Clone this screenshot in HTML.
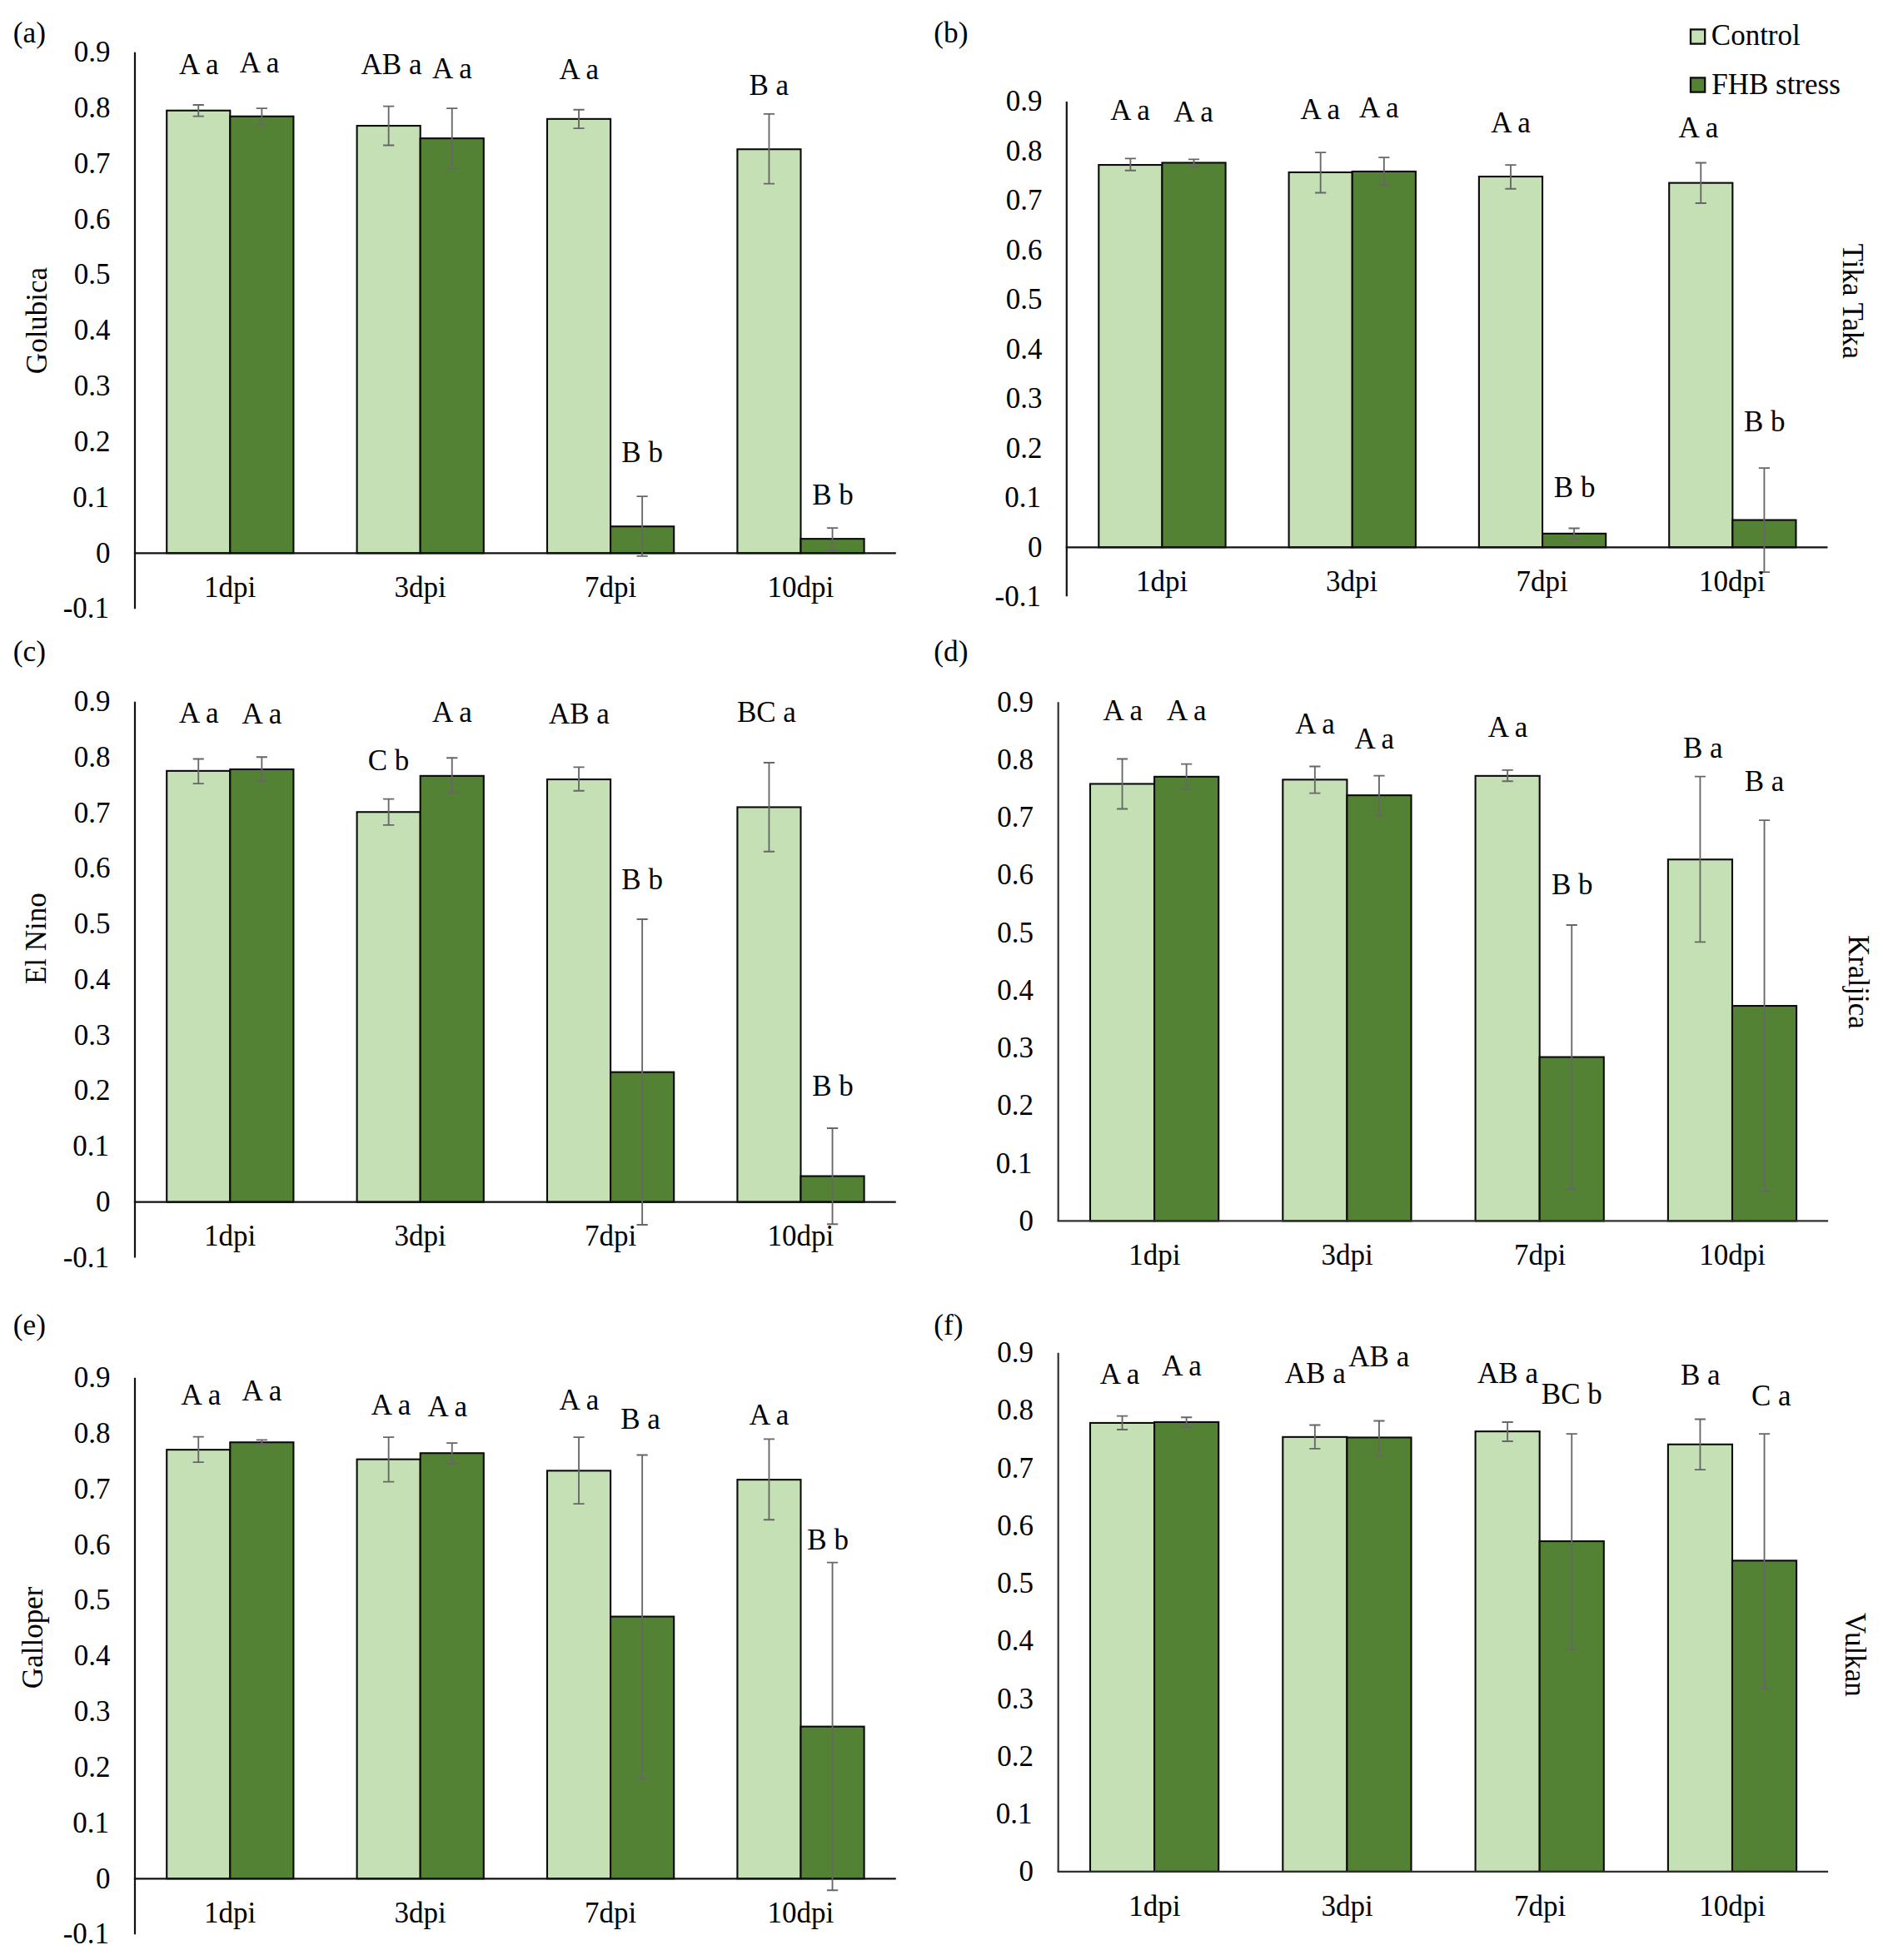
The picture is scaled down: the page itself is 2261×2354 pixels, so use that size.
<!DOCTYPE html>
<html><head><meta charset="utf-8"><title>Figure</title>
<style>
html,body{margin:0;padding:0;background:#fff}
svg{display:block}
text{font-family:"Liberation Serif","Times New Roman",serif;fill:#000}
</style></head><body>
<svg width="2261" height="2354" viewBox="0 0 2261 2354">
<rect width="2261" height="2354" fill="#fff"/>
<rect x="200.20" y="132.75" width="76.10" height="531.55" fill="#c5e0b4" stroke="#0b0b0b" stroke-width="2.1"/>
<rect x="276.30" y="139.75" width="76.10" height="524.55" fill="#548235" stroke="#0b0b0b" stroke-width="2.1"/>
<rect x="428.60" y="151.05" width="76.10" height="513.25" fill="#c5e0b4" stroke="#0b0b0b" stroke-width="2.1"/>
<rect x="504.70" y="166.15" width="76.10" height="498.15" fill="#548235" stroke="#0b0b0b" stroke-width="2.1"/>
<rect x="657.00" y="142.85" width="76.10" height="521.45" fill="#c5e0b4" stroke="#0b0b0b" stroke-width="2.1"/>
<rect x="733.10" y="632.25" width="76.10" height="32.05" fill="#548235" stroke="#0b0b0b" stroke-width="2.1"/>
<rect x="885.40" y="179.25" width="76.10" height="485.05" fill="#c5e0b4" stroke="#0b0b0b" stroke-width="2.1"/>
<rect x="961.50" y="647.15" width="76.10" height="17.15" fill="#548235" stroke="#0b0b0b" stroke-width="2.1"/>
<line x1="162.00" y1="62.74" x2="162.00" y2="731.14" stroke="#111" stroke-width="2.2"/>
<line x1="160.90" y1="664.30" x2="1075.80" y2="664.30" stroke="#111" stroke-width="2.2"/>
<path d="M238.25 125.95V139.55M231.65 125.95h13.2M231.65 139.55h13.2" stroke="#676767" stroke-width="1.85" fill="none"/>
<path d="M314.35 130.15V149.55M307.75 130.15h13.2M307.75 149.55h13.2" stroke="#676767" stroke-width="1.85" fill="none"/>
<path d="M466.65 127.65V174.45M460.05 127.65h13.2M460.05 174.45h13.2" stroke="#676767" stroke-width="1.85" fill="none"/>
<path d="M542.75 130.15V201.85M536.15 130.15h13.2M536.15 201.85h13.2" stroke="#676767" stroke-width="1.85" fill="none"/>
<path d="M695.05 131.75V154.05M688.45 131.75h13.2M688.45 154.05h13.2" stroke="#676767" stroke-width="1.85" fill="none"/>
<path d="M771.15 596.15V667.85M764.55 596.15h13.2M764.55 667.85h13.2" stroke="#676767" stroke-width="1.85" fill="none"/>
<path d="M923.45 136.85V220.65M916.85 136.85h13.2M916.85 220.65h13.2" stroke="#676767" stroke-width="1.85" fill="none"/>
<path d="M999.55 634.15V660.25M992.95 634.15h13.2M992.95 660.25h13.2" stroke="#676767" stroke-width="1.85" fill="none"/>
<text x="131.1" y="742.4" text-anchor="end" font-size="35">-0.1</text>
<text x="132.6" y="675.6" text-anchor="end" font-size="35">0</text>
<text x="131.1" y="608.8" text-anchor="end" font-size="35">0.1</text>
<text x="132.6" y="541.9" text-anchor="end" font-size="35">0.2</text>
<text x="132.6" y="475.1" text-anchor="end" font-size="35">0.3</text>
<text x="132.6" y="408.2" text-anchor="end" font-size="35">0.4</text>
<text x="132.6" y="341.4" text-anchor="end" font-size="35">0.5</text>
<text x="132.6" y="274.6" text-anchor="end" font-size="35">0.6</text>
<text x="132.6" y="207.7" text-anchor="end" font-size="35">0.7</text>
<text x="132.6" y="140.9" text-anchor="end" font-size="35">0.8</text>
<text x="132.6" y="74.0" text-anchor="end" font-size="35">0.9</text>
<text x="276.2" y="717.0" text-anchor="middle" font-size="35">1dpi</text>
<text x="504.6" y="717.0" text-anchor="middle" font-size="35">3dpi</text>
<text x="733.0" y="717.0" text-anchor="middle" font-size="35">7dpi</text>
<text x="961.4" y="717.0" text-anchor="middle" font-size="35">10dpi</text>
<text x="238.7" y="88.8" text-anchor="middle" font-size="35">A a</text>
<text x="311.5" y="87.2" text-anchor="middle" font-size="35">A a</text>
<text x="470.0" y="88.8" text-anchor="middle" font-size="35">AB a</text>
<text x="542.9" y="93.5" text-anchor="middle" font-size="35">A a</text>
<text x="695.2" y="94.8" text-anchor="middle" font-size="35">A a</text>
<text x="771.1" y="555.1" text-anchor="middle" font-size="35">B b</text>
<text x="923.2" y="113.5" text-anchor="middle" font-size="35">B a</text>
<text x="1000.0" y="605.8" text-anchor="middle" font-size="35">B b</text>
<rect x="1319.30" y="198.05" width="76.15" height="459.25" fill="#c5e0b4" stroke="#0b0b0b" stroke-width="2.1"/>
<rect x="1395.45" y="195.45" width="76.15" height="461.85" fill="#548235" stroke="#0b0b0b" stroke-width="2.1"/>
<rect x="1547.60" y="206.95" width="76.15" height="450.35" fill="#c5e0b4" stroke="#0b0b0b" stroke-width="2.1"/>
<rect x="1623.75" y="205.95" width="76.15" height="451.35" fill="#548235" stroke="#0b0b0b" stroke-width="2.1"/>
<rect x="1775.90" y="212.05" width="76.15" height="445.25" fill="#c5e0b4" stroke="#0b0b0b" stroke-width="2.1"/>
<rect x="1852.05" y="640.85" width="76.15" height="16.45" fill="#548235" stroke="#0b0b0b" stroke-width="2.1"/>
<rect x="2004.20" y="219.65" width="76.15" height="437.65" fill="#c5e0b4" stroke="#0b0b0b" stroke-width="2.1"/>
<rect x="2080.35" y="624.55" width="76.15" height="32.75" fill="#548235" stroke="#0b0b0b" stroke-width="2.1"/>
<line x1="1280.80" y1="121.98" x2="1280.80" y2="716.30" stroke="#111" stroke-width="2.2"/>
<line x1="1279.70" y1="657.30" x2="2194.50" y2="657.30" stroke="#111" stroke-width="2.2"/>
<path d="M1357.38 190.35V204.75M1350.78 190.35h13.2M1350.78 204.75h13.2" stroke="#676767" stroke-width="1.85" fill="none"/>
<path d="M1433.53 191.35V199.95M1426.93 191.35h13.2M1426.93 199.95h13.2" stroke="#676767" stroke-width="1.85" fill="none"/>
<path d="M1585.67 183.05V231.45M1579.08 183.05h13.2M1579.08 231.45h13.2" stroke="#676767" stroke-width="1.85" fill="none"/>
<path d="M1661.83 189.15V222.25M1655.23 189.15h13.2M1655.23 222.25h13.2" stroke="#676767" stroke-width="1.85" fill="none"/>
<path d="M1813.98 198.05V226.75M1807.38 198.05h13.2M1807.38 226.75h13.2" stroke="#676767" stroke-width="1.85" fill="none"/>
<path d="M1890.13 634.45V647.45M1883.53 634.45h13.2M1883.53 647.45h13.2" stroke="#676767" stroke-width="1.85" fill="none"/>
<path d="M2042.28 195.45V243.95M2035.68 195.45h13.2M2035.68 243.95h13.2" stroke="#676767" stroke-width="1.85" fill="none"/>
<path d="M2118.42 562.05V687.05M2111.82 562.05h13.2M2111.82 687.05h13.2" stroke="#676767" stroke-width="1.85" fill="none"/>
<text x="1249.9" y="728.1" text-anchor="end" font-size="35">-0.1</text>
<text x="1251.4" y="668.6" text-anchor="end" font-size="35">0</text>
<text x="1249.9" y="609.1" text-anchor="end" font-size="35">0.1</text>
<text x="1251.4" y="549.6" text-anchor="end" font-size="35">0.2</text>
<text x="1251.4" y="490.2" text-anchor="end" font-size="35">0.3</text>
<text x="1251.4" y="430.7" text-anchor="end" font-size="35">0.4</text>
<text x="1251.4" y="371.2" text-anchor="end" font-size="35">0.5</text>
<text x="1251.4" y="311.7" text-anchor="end" font-size="35">0.6</text>
<text x="1251.4" y="252.2" text-anchor="end" font-size="35">0.7</text>
<text x="1251.4" y="192.8" text-anchor="end" font-size="35">0.8</text>
<text x="1251.4" y="133.3" text-anchor="end" font-size="35">0.9</text>
<text x="1395.0" y="710.0" text-anchor="middle" font-size="35">1dpi</text>
<text x="1623.2" y="710.0" text-anchor="middle" font-size="35">3dpi</text>
<text x="1851.6" y="710.0" text-anchor="middle" font-size="35">7dpi</text>
<text x="2079.8" y="710.0" text-anchor="middle" font-size="35">10dpi</text>
<text x="1357.0" y="144.4" text-anchor="middle" font-size="35">A a</text>
<text x="1433.0" y="145.8" text-anchor="middle" font-size="35">A a</text>
<text x="1585.2" y="142.8" text-anchor="middle" font-size="35">A a</text>
<text x="1655.8" y="140.6" text-anchor="middle" font-size="35">A a</text>
<text x="1814.0" y="158.8" text-anchor="middle" font-size="35">A a</text>
<text x="1890.6" y="597.2" text-anchor="middle" font-size="35">B b</text>
<text x="2039.4" y="165.2" text-anchor="middle" font-size="35">A a</text>
<text x="2118.8" y="517.5" text-anchor="middle" font-size="35">B b</text>
<rect x="200.20" y="925.85" width="76.10" height="517.85" fill="#c5e0b4" stroke="#0b0b0b" stroke-width="2.1"/>
<rect x="276.30" y="923.95" width="76.10" height="519.75" fill="#548235" stroke="#0b0b0b" stroke-width="2.1"/>
<rect x="428.60" y="975.25" width="76.10" height="468.45" fill="#c5e0b4" stroke="#0b0b0b" stroke-width="2.1"/>
<rect x="504.70" y="931.85" width="76.10" height="511.85" fill="#548235" stroke="#0b0b0b" stroke-width="2.1"/>
<rect x="657.00" y="936.05" width="76.10" height="507.65" fill="#c5e0b4" stroke="#0b0b0b" stroke-width="2.1"/>
<rect x="733.10" y="1287.65" width="76.10" height="156.05" fill="#548235" stroke="#0b0b0b" stroke-width="2.1"/>
<rect x="885.40" y="969.45" width="76.10" height="474.25" fill="#c5e0b4" stroke="#0b0b0b" stroke-width="2.1"/>
<rect x="961.50" y="1412.55" width="76.10" height="31.15" fill="#548235" stroke="#0b0b0b" stroke-width="2.1"/>
<line x1="162.00" y1="842.68" x2="162.00" y2="1510.48" stroke="#111" stroke-width="2.2"/>
<line x1="160.90" y1="1443.70" x2="1075.80" y2="1443.70" stroke="#111" stroke-width="2.2"/>
<path d="M238.25 911.45V941.15M231.65 911.45h13.2M231.65 941.15h13.2" stroke="#676767" stroke-width="1.85" fill="none"/>
<path d="M314.35 909.25V937.95M307.75 909.25h13.2M307.75 937.95h13.2" stroke="#676767" stroke-width="1.85" fill="none"/>
<path d="M466.65 959.65V990.85M460.05 959.65h13.2M460.05 990.85h13.2" stroke="#676767" stroke-width="1.85" fill="none"/>
<path d="M542.75 910.25V952.25M536.15 910.25h13.2M536.15 952.25h13.2" stroke="#676767" stroke-width="1.85" fill="none"/>
<path d="M695.05 921.35V949.75M688.45 921.35h13.2M688.45 949.75h13.2" stroke="#676767" stroke-width="1.85" fill="none"/>
<path d="M771.15 1103.95V1470.95M764.55 1103.95h13.2M764.55 1470.95h13.2" stroke="#676767" stroke-width="1.85" fill="none"/>
<path d="M923.45 915.95V1022.75M916.85 915.95h13.2M916.85 1022.75h13.2" stroke="#676767" stroke-width="1.85" fill="none"/>
<path d="M999.55 1354.95V1470.25M992.95 1354.95h13.2M992.95 1470.25h13.2" stroke="#676767" stroke-width="1.85" fill="none"/>
<text x="131.1" y="1521.8" text-anchor="end" font-size="35">-0.1</text>
<text x="132.6" y="1455.0" text-anchor="end" font-size="35">0</text>
<text x="131.1" y="1388.2" text-anchor="end" font-size="35">0.1</text>
<text x="132.6" y="1321.4" text-anchor="end" font-size="35">0.2</text>
<text x="132.6" y="1254.7" text-anchor="end" font-size="35">0.3</text>
<text x="132.6" y="1187.9" text-anchor="end" font-size="35">0.4</text>
<text x="132.6" y="1121.1" text-anchor="end" font-size="35">0.5</text>
<text x="132.6" y="1054.3" text-anchor="end" font-size="35">0.6</text>
<text x="132.6" y="987.5" text-anchor="end" font-size="35">0.7</text>
<text x="132.6" y="920.8" text-anchor="end" font-size="35">0.8</text>
<text x="132.6" y="854.0" text-anchor="end" font-size="35">0.9</text>
<text x="276.2" y="1496.4" text-anchor="middle" font-size="35">1dpi</text>
<text x="504.6" y="1496.4" text-anchor="middle" font-size="35">3dpi</text>
<text x="733.0" y="1496.4" text-anchor="middle" font-size="35">7dpi</text>
<text x="961.4" y="1496.4" text-anchor="middle" font-size="35">10dpi</text>
<text x="238.7" y="868.2" text-anchor="middle" font-size="35">A a</text>
<text x="314.4" y="868.9" text-anchor="middle" font-size="35">A a</text>
<text x="466.5" y="925.2" text-anchor="middle" font-size="35">C b</text>
<text x="542.9" y="866.6" text-anchor="middle" font-size="35">A a</text>
<text x="695.4" y="868.9" text-anchor="middle" font-size="35">AB a</text>
<text x="771.1" y="1068.0" text-anchor="middle" font-size="35">B b</text>
<text x="920.4" y="867.2" text-anchor="middle" font-size="35">BC a</text>
<text x="1000.0" y="1316.4" text-anchor="middle" font-size="35">B b</text>
<rect x="1309.00" y="941.45" width="77.10" height="524.95" fill="#c5e0b4" stroke="#0b0b0b" stroke-width="2.1"/>
<rect x="1386.10" y="932.85" width="77.10" height="533.55" fill="#548235" stroke="#0b0b0b" stroke-width="2.1"/>
<rect x="1540.30" y="936.35" width="77.10" height="530.05" fill="#c5e0b4" stroke="#0b0b0b" stroke-width="2.1"/>
<rect x="1617.40" y="955.15" width="77.10" height="511.25" fill="#548235" stroke="#0b0b0b" stroke-width="2.1"/>
<rect x="1771.60" y="931.85" width="77.10" height="534.55" fill="#c5e0b4" stroke="#0b0b0b" stroke-width="2.1"/>
<rect x="1848.70" y="1269.55" width="77.10" height="196.85" fill="#548235" stroke="#0b0b0b" stroke-width="2.1"/>
<rect x="2002.90" y="1032.25" width="77.10" height="434.15" fill="#c5e0b4" stroke="#0b0b0b" stroke-width="2.1"/>
<rect x="2080.00" y="1208.05" width="77.10" height="258.35" fill="#548235" stroke="#0b0b0b" stroke-width="2.1"/>
<line x1="1270.70" y1="843.33" x2="1270.70" y2="1466.40" stroke="#303030" stroke-width="2.2"/>
<line x1="1269.60" y1="1466.40" x2="2195.10" y2="1466.40" stroke="#303030" stroke-width="2.2"/>
<path d="M1347.55 911.45V971.45M1340.95 911.45h13.2M1340.95 971.45h13.2" stroke="#676767" stroke-width="1.85" fill="none"/>
<path d="M1424.65 917.55V947.85M1418.05 917.55h13.2M1418.05 947.85h13.2" stroke="#676767" stroke-width="1.85" fill="none"/>
<path d="M1578.85 920.45V952.65M1572.25 920.45h13.2M1572.25 952.65h13.2" stroke="#676767" stroke-width="1.85" fill="none"/>
<path d="M1655.95 931.55V979.35M1649.35 931.55h13.2M1649.35 979.35h13.2" stroke="#676767" stroke-width="1.85" fill="none"/>
<path d="M1810.15 924.85V938.25M1803.55 924.85h13.2M1803.55 938.25h13.2" stroke="#676767" stroke-width="1.85" fill="none"/>
<path d="M1887.25 1110.95V1428.25M1880.65 1110.95h13.2M1880.65 1428.25h13.2" stroke="#676767" stroke-width="1.85" fill="none"/>
<path d="M2041.45 932.55V1131.35M2034.85 932.55h13.2M2034.85 1131.35h13.2" stroke="#676767" stroke-width="1.85" fill="none"/>
<path d="M2118.55 985.15V1431.05M2111.95 985.15h13.2M2111.95 1431.05h13.2" stroke="#676767" stroke-width="1.85" fill="none"/>
<text x="1241.0" y="1477.7" text-anchor="end" font-size="35">0</text>
<text x="1239.5" y="1408.5" text-anchor="end" font-size="35">0.1</text>
<text x="1241.0" y="1339.2" text-anchor="end" font-size="35">0.2</text>
<text x="1241.0" y="1270.0" text-anchor="end" font-size="35">0.3</text>
<text x="1241.0" y="1200.8" text-anchor="end" font-size="35">0.4</text>
<text x="1241.0" y="1131.5" text-anchor="end" font-size="35">0.5</text>
<text x="1241.0" y="1062.3" text-anchor="end" font-size="35">0.6</text>
<text x="1241.0" y="993.1" text-anchor="end" font-size="35">0.7</text>
<text x="1241.0" y="923.9" text-anchor="end" font-size="35">0.8</text>
<text x="1241.0" y="854.6" text-anchor="end" font-size="35">0.9</text>
<text x="1386.4" y="1519.1" text-anchor="middle" font-size="35">1dpi</text>
<text x="1617.7" y="1519.1" text-anchor="middle" font-size="35">3dpi</text>
<text x="1849.0" y="1519.1" text-anchor="middle" font-size="35">7dpi</text>
<text x="2080.2" y="1519.1" text-anchor="middle" font-size="35">10dpi</text>
<text x="1348.2" y="865.0" text-anchor="middle" font-size="35">A a</text>
<text x="1424.7" y="865.0" text-anchor="middle" font-size="35">A a</text>
<text x="1579.1" y="881.0" text-anchor="middle" font-size="35">A a</text>
<text x="1650.2" y="899.4" text-anchor="middle" font-size="35">A a</text>
<text x="1810.5" y="884.8" text-anchor="middle" font-size="35">A a</text>
<text x="1887.7" y="1074.4" text-anchor="middle" font-size="35">B b</text>
<text x="2044.7" y="909.6" text-anchor="middle" font-size="35">B a</text>
<text x="2118.6" y="950.1" text-anchor="middle" font-size="35">B a</text>
<rect x="200.20" y="1741.15" width="76.10" height="515.15" fill="#c5e0b4" stroke="#0b0b0b" stroke-width="2.1"/>
<rect x="276.30" y="1732.25" width="76.10" height="524.05" fill="#548235" stroke="#0b0b0b" stroke-width="2.1"/>
<rect x="428.60" y="1752.65" width="76.10" height="503.65" fill="#c5e0b4" stroke="#0b0b0b" stroke-width="2.1"/>
<rect x="504.70" y="1745.25" width="76.10" height="511.05" fill="#548235" stroke="#0b0b0b" stroke-width="2.1"/>
<rect x="657.00" y="1766.35" width="76.10" height="489.95" fill="#c5e0b4" stroke="#0b0b0b" stroke-width="2.1"/>
<rect x="733.10" y="1941.55" width="76.10" height="314.75" fill="#548235" stroke="#0b0b0b" stroke-width="2.1"/>
<rect x="885.40" y="1777.15" width="76.10" height="479.15" fill="#c5e0b4" stroke="#0b0b0b" stroke-width="2.1"/>
<rect x="961.50" y="2073.65" width="76.10" height="182.65" fill="#548235" stroke="#0b0b0b" stroke-width="2.1"/>
<line x1="162.00" y1="1654.74" x2="162.00" y2="2323.14" stroke="#111" stroke-width="2.2"/>
<line x1="160.90" y1="2256.30" x2="1075.80" y2="2256.30" stroke="#111" stroke-width="2.2"/>
<path d="M238.25 1725.55V1756.15M231.65 1725.55h13.2M231.65 1756.15h13.2" stroke="#676767" stroke-width="1.85" fill="none"/>
<path d="M314.35 1729.35V1734.45M307.75 1729.35h13.2M307.75 1734.45h13.2" stroke="#676767" stroke-width="1.85" fill="none"/>
<path d="M466.65 1726.15V1779.65M460.05 1726.15h13.2M460.05 1779.65h13.2" stroke="#676767" stroke-width="1.85" fill="none"/>
<path d="M542.75 1733.15V1757.75M536.15 1733.15h13.2M536.15 1757.75h13.2" stroke="#676767" stroke-width="1.85" fill="none"/>
<path d="M695.05 1726.15V1806.15M688.45 1726.15h13.2M688.45 1806.15h13.2" stroke="#676767" stroke-width="1.85" fill="none"/>
<path d="M771.15 1747.45V2136.05M764.55 1747.45h13.2M764.55 2136.05h13.2" stroke="#676767" stroke-width="1.85" fill="none"/>
<path d="M923.45 1728.35V1825.25M916.85 1728.35h13.2M916.85 1825.25h13.2" stroke="#676767" stroke-width="1.85" fill="none"/>
<path d="M999.55 1876.55V2270.25M992.95 1876.55h13.2M992.95 2270.25h13.2" stroke="#676767" stroke-width="1.85" fill="none"/>
<text x="131.1" y="2334.4" text-anchor="end" font-size="35">-0.1</text>
<text x="132.6" y="2267.6" text-anchor="end" font-size="35">0</text>
<text x="131.1" y="2200.8" text-anchor="end" font-size="35">0.1</text>
<text x="132.6" y="2133.9" text-anchor="end" font-size="35">0.2</text>
<text x="132.6" y="2067.1" text-anchor="end" font-size="35">0.3</text>
<text x="132.6" y="2000.2" text-anchor="end" font-size="35">0.4</text>
<text x="132.6" y="1933.4" text-anchor="end" font-size="35">0.5</text>
<text x="132.6" y="1866.6" text-anchor="end" font-size="35">0.6</text>
<text x="132.6" y="1799.7" text-anchor="end" font-size="35">0.7</text>
<text x="132.6" y="1732.9" text-anchor="end" font-size="35">0.8</text>
<text x="132.6" y="1666.0" text-anchor="end" font-size="35">0.9</text>
<text x="276.2" y="2309.0" text-anchor="middle" font-size="35">1dpi</text>
<text x="504.6" y="2309.0" text-anchor="middle" font-size="35">3dpi</text>
<text x="733.0" y="2309.0" text-anchor="middle" font-size="35">7dpi</text>
<text x="961.4" y="2309.0" text-anchor="middle" font-size="35">10dpi</text>
<text x="241.4" y="1687.2" text-anchor="middle" font-size="35">A a</text>
<text x="314.4" y="1682.2" text-anchor="middle" font-size="35">A a</text>
<text x="469.6" y="1699.0" text-anchor="middle" font-size="35">A a</text>
<text x="537.3" y="1700.7" text-anchor="middle" font-size="35">A a</text>
<text x="695.4" y="1692.7" text-anchor="middle" font-size="35">A a</text>
<text x="769.0" y="1715.7" text-anchor="middle" font-size="35">B a</text>
<text x="923.6" y="1710.9" text-anchor="middle" font-size="35">A a</text>
<text x="994.1" y="1861.0" text-anchor="middle" font-size="35">B b</text>
<rect x="1309.00" y="1708.95" width="77.10" height="538.95" fill="#c5e0b4" stroke="#0b0b0b" stroke-width="2.1"/>
<rect x="1386.10" y="1707.95" width="77.10" height="539.95" fill="#548235" stroke="#0b0b0b" stroke-width="2.1"/>
<rect x="1540.30" y="1725.85" width="77.10" height="522.05" fill="#c5e0b4" stroke="#0b0b0b" stroke-width="2.1"/>
<rect x="1617.40" y="1726.45" width="77.10" height="521.45" fill="#548235" stroke="#0b0b0b" stroke-width="2.1"/>
<rect x="1771.60" y="1719.15" width="77.10" height="528.75" fill="#c5e0b4" stroke="#0b0b0b" stroke-width="2.1"/>
<rect x="1848.70" y="1851.05" width="77.10" height="396.85" fill="#548235" stroke="#0b0b0b" stroke-width="2.1"/>
<rect x="2002.90" y="1734.75" width="77.10" height="513.15" fill="#c5e0b4" stroke="#0b0b0b" stroke-width="2.1"/>
<rect x="2080.00" y="1874.35" width="77.10" height="373.55" fill="#548235" stroke="#0b0b0b" stroke-width="2.1"/>
<line x1="1270.70" y1="1624.83" x2="1270.70" y2="2247.90" stroke="#303030" stroke-width="2.2"/>
<line x1="1269.60" y1="2247.90" x2="2195.10" y2="2247.90" stroke="#303030" stroke-width="2.2"/>
<path d="M1347.55 1700.65V1716.95M1340.95 1700.65h13.2M1340.95 1716.95h13.2" stroke="#676767" stroke-width="1.85" fill="none"/>
<path d="M1424.65 1702.25V1714.05M1418.05 1702.25h13.2M1418.05 1714.05h13.2" stroke="#676767" stroke-width="1.85" fill="none"/>
<path d="M1578.85 1711.45V1739.85M1572.25 1711.45h13.2M1572.25 1739.85h13.2" stroke="#676767" stroke-width="1.85" fill="none"/>
<path d="M1655.95 1706.45V1747.55M1649.35 1706.45h13.2M1649.35 1747.55h13.2" stroke="#676767" stroke-width="1.85" fill="none"/>
<path d="M1810.15 1707.95V1730.95M1803.55 1707.95h13.2M1803.55 1730.95h13.2" stroke="#676767" stroke-width="1.85" fill="none"/>
<path d="M1887.25 1722.05V1980.55M1880.65 1722.05h13.2M1880.65 1980.55h13.2" stroke="#676767" stroke-width="1.85" fill="none"/>
<path d="M2041.45 1704.45V1765.05M2034.85 1704.45h13.2M2034.85 1765.05h13.2" stroke="#676767" stroke-width="1.85" fill="none"/>
<path d="M2118.55 1722.05V2027.75M2111.95 1722.05h13.2M2111.95 2027.75h13.2" stroke="#676767" stroke-width="1.85" fill="none"/>
<text x="1241.0" y="2259.2" text-anchor="end" font-size="35">0</text>
<text x="1239.5" y="2190.0" text-anchor="end" font-size="35">0.1</text>
<text x="1241.0" y="2120.7" text-anchor="end" font-size="35">0.2</text>
<text x="1241.0" y="2051.5" text-anchor="end" font-size="35">0.3</text>
<text x="1241.0" y="1982.3" text-anchor="end" font-size="35">0.4</text>
<text x="1241.0" y="1913.0" text-anchor="end" font-size="35">0.5</text>
<text x="1241.0" y="1843.8" text-anchor="end" font-size="35">0.6</text>
<text x="1241.0" y="1774.6" text-anchor="end" font-size="35">0.7</text>
<text x="1241.0" y="1705.4" text-anchor="end" font-size="35">0.8</text>
<text x="1241.0" y="1636.1" text-anchor="end" font-size="35">0.9</text>
<text x="1386.4" y="2300.6" text-anchor="middle" font-size="35">1dpi</text>
<text x="1617.7" y="2300.6" text-anchor="middle" font-size="35">3dpi</text>
<text x="1849.0" y="2300.6" text-anchor="middle" font-size="35">7dpi</text>
<text x="2080.2" y="2300.6" text-anchor="middle" font-size="35">10dpi</text>
<text x="1344.6" y="1661.8" text-anchor="middle" font-size="35">A a</text>
<text x="1419.0" y="1652.2" text-anchor="middle" font-size="35">A a</text>
<text x="1579.3" y="1661.2" text-anchor="middle" font-size="35">AB a</text>
<text x="1655.8" y="1641.0" text-anchor="middle" font-size="35">AB a</text>
<text x="1810.5" y="1660.9" text-anchor="middle" font-size="35">AB a</text>
<text x="1887.3" y="1686.4" text-anchor="middle" font-size="35">BC b</text>
<text x="2041.8" y="1662.5" text-anchor="middle" font-size="35">B a</text>
<text x="2126.7" y="1688.0" text-anchor="middle" font-size="35">C a</text>
<text x="15.8" y="51.2" text-anchor="start" font-size="35.3">(a)</text>
<text x="1121.3" y="51.2" text-anchor="start" font-size="35.3">(b)</text>
<text x="15.8" y="794.4" text-anchor="start" font-size="35.3">(c)</text>
<text x="1121.3" y="794.4" text-anchor="start" font-size="35.3">(d)</text>
<text x="15.8" y="1603.3" text-anchor="start" font-size="35.3">(e)</text>
<text x="1121.3" y="1603.3" text-anchor="start" font-size="35.3">(f)</text>
<rect x="2030" y="35.4" width="17.2" height="17.2" fill="#c5e0b4" stroke="#0d0d0d" stroke-width="2.3"/>
<rect x="2030" y="93.4" width="17.2" height="17.2" fill="#548235" stroke="#0d0d0d" stroke-width="2.3"/>
<text x="2054.8" y="54.2" text-anchor="start" font-size="35">Control</text>
<text x="2055.2" y="112.5" text-anchor="start" font-size="35">FHB stress</text>
<text x="55.6" y="385.0" text-anchor="middle" font-size="35" transform="rotate(-90 55.6 385.0)">Golubica</text>
<text x="55.2" y="1127.1" text-anchor="middle" font-size="35" transform="rotate(-90 55.2 1127.1)">El Nino</text>
<text x="50.6" y="1966.9" text-anchor="middle" font-size="35" transform="rotate(-90 50.6 1966.9)">Galloper</text>
<text x="2212.7" y="361.8" text-anchor="middle" font-size="35" transform="rotate(90 2212.7 361.8)">Tika Taka</text>
<text x="2219.8" y="1179.4" text-anchor="middle" font-size="35" transform="rotate(90 2219.8 1179.4)">Kraljica</text>
<text x="2215.7" y="1987.3" text-anchor="middle" font-size="35" transform="rotate(90 2215.7 1987.3)">Vulkan</text>
</svg>
</body></html>
